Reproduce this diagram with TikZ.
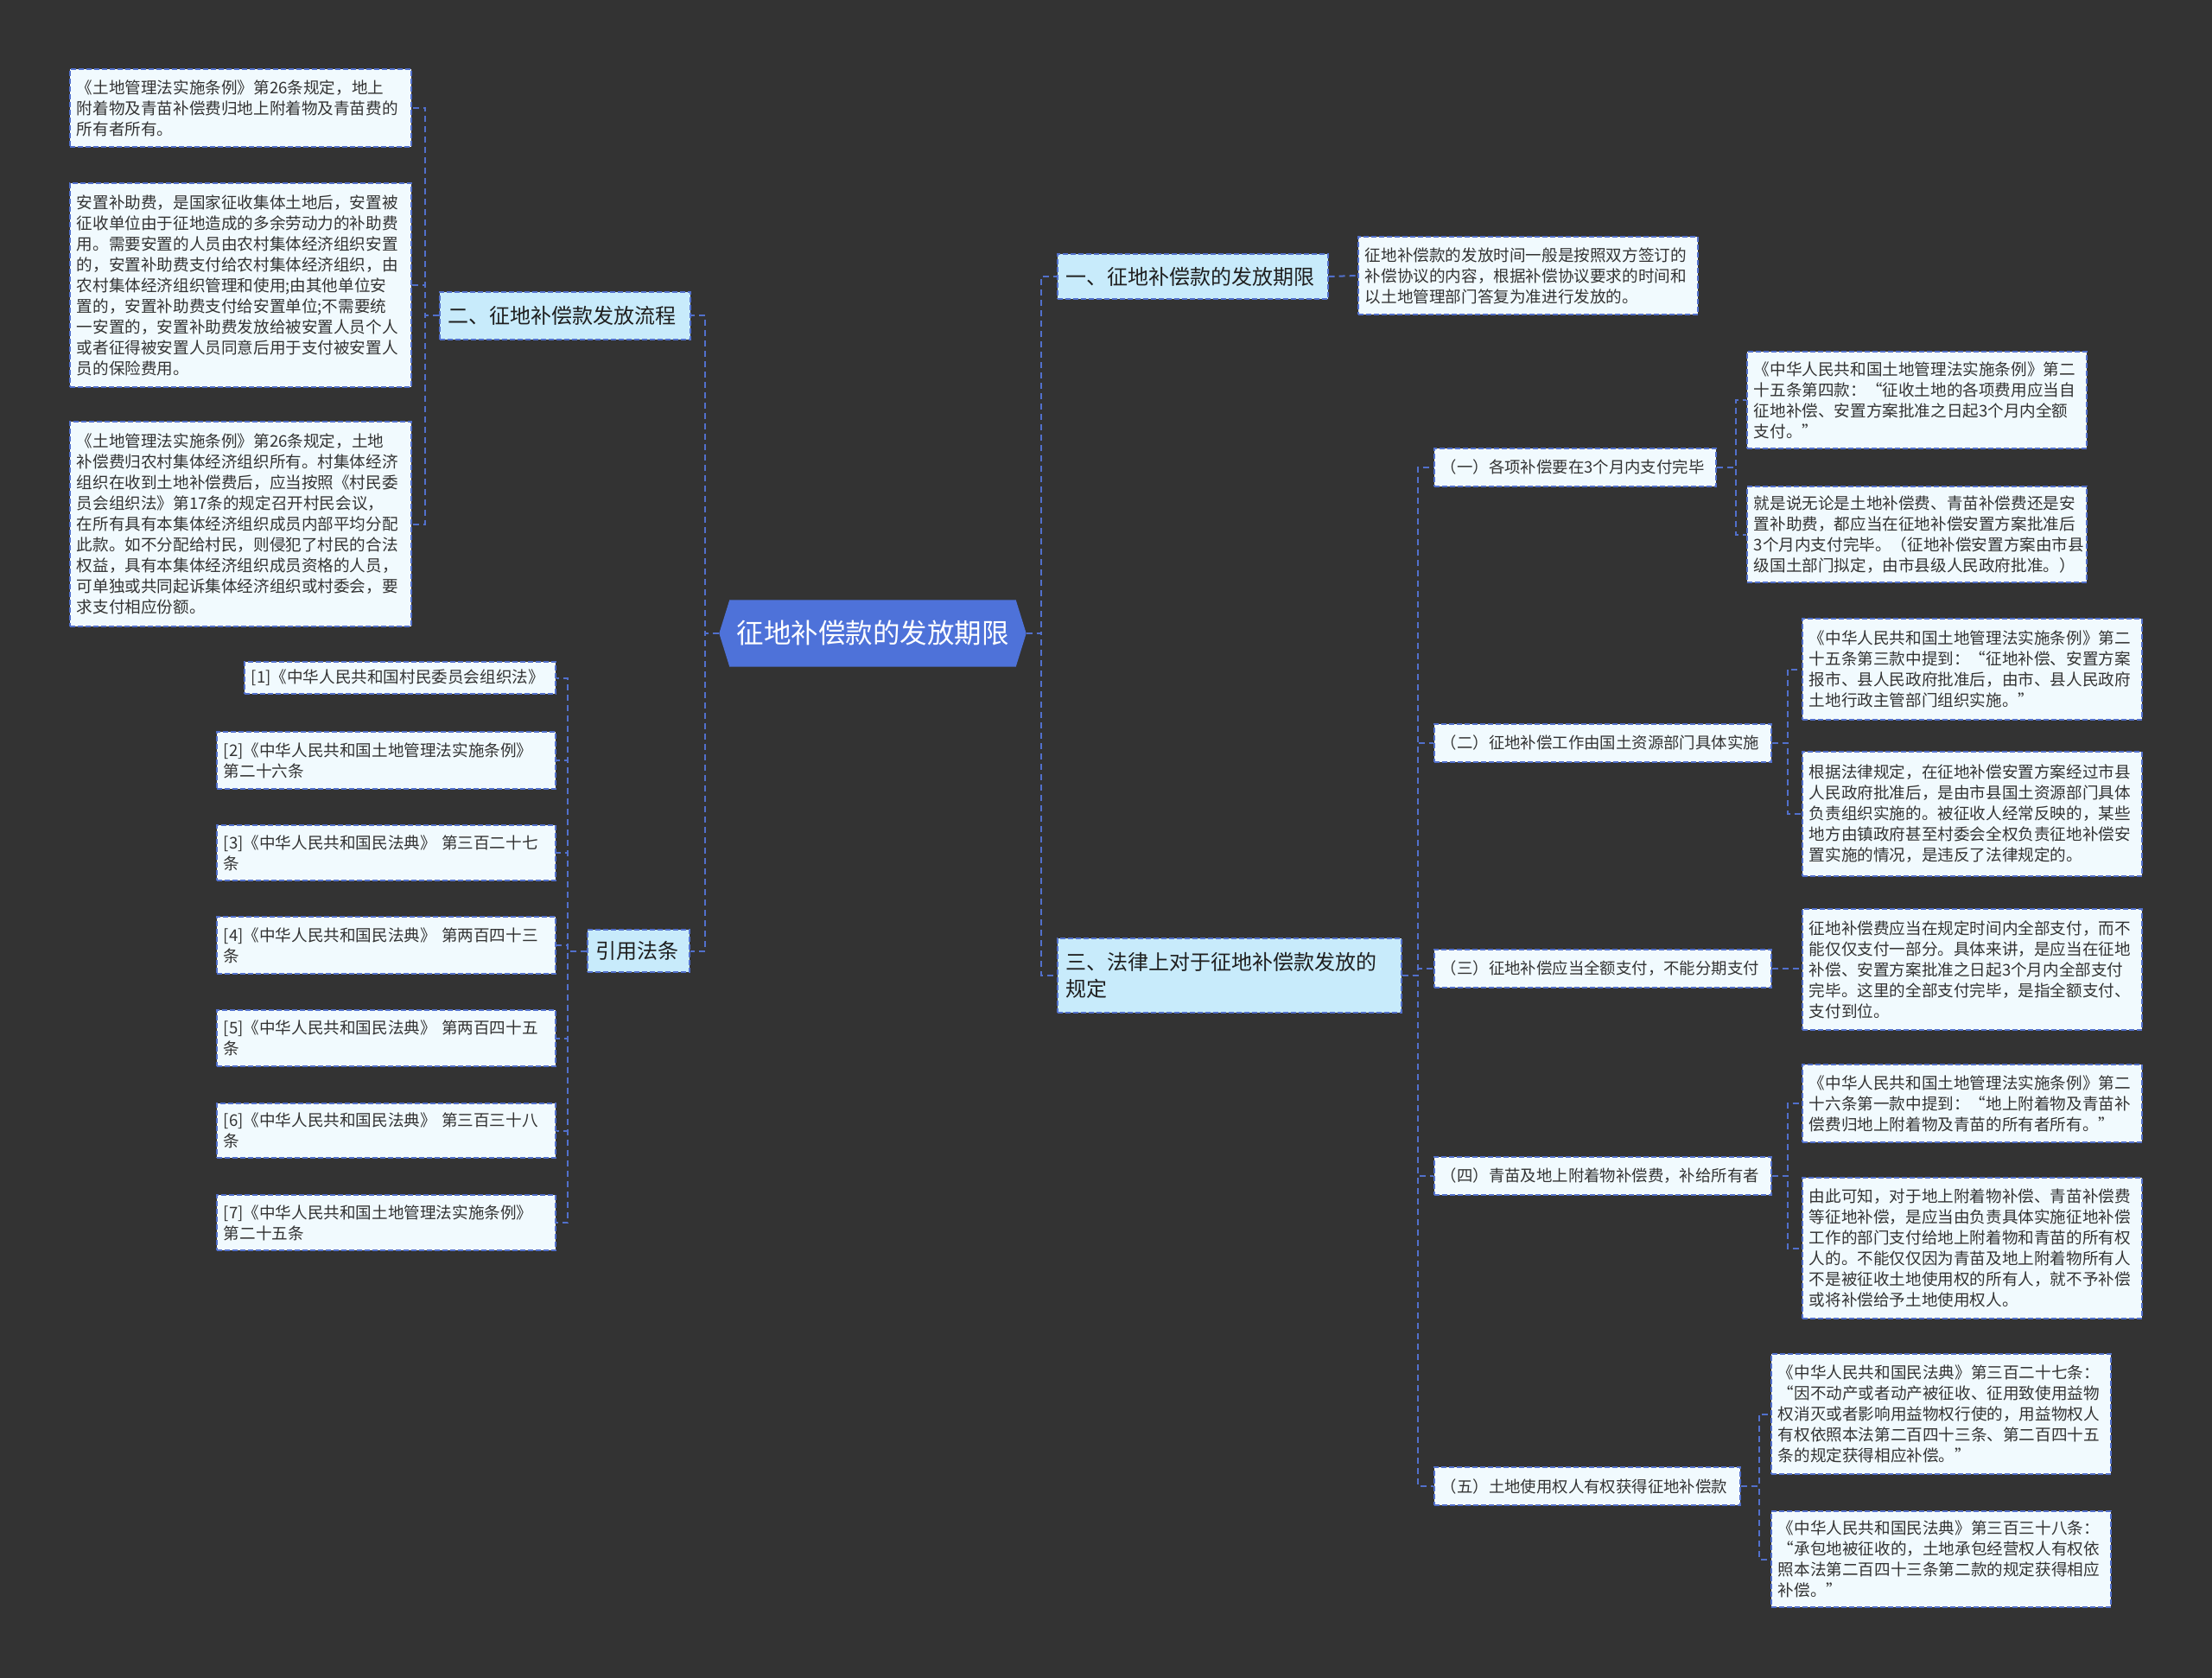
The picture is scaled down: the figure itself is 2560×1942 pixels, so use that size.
\documentclass[tikz,border=0pt]{standalone}
\usepackage{fontspec}
\setmainfont{Noto Sans CJK SC}
\definecolor{bgc}{HTML}{333333}
\definecolor{edgec}{HTML}{5270CC}
\definecolor{leaffill}{HTML}{F1FAFE}
\definecolor{lonefill}{HTML}{C8EBFB}
\definecolor{rootfill}{HTML}{4E72D9}
\definecolor{txt}{HTML}{333333}
\pgfdeclarelayer{back}\pgfdeclarelayer{mid}\pgfsetlayers{back,mid,main}
\tikzset{
  conn/.style={draw=edgec, line width=2pt, dash pattern=on 7pt off 5pt},
  leaf/.style={draw=edgec, fill=leaffill, line width=1.6pt, dash pattern=on 6pt off 3pt,
    align=left, text=txt, font=\fontsize{18.6}{24}\selectfont, inner xsep=8pt, inner ysep=0pt, anchor=west},
  sub/.style={leaf, font=\fontsize{18.4}{24}\selectfont},
  lone/.style={leaf, fill=lonefill, text=black!88, font=\fontsize{24}{31}\selectfont, inner xsep=10pt},
  rootnode/.style={text=white, font=\fontsize{31.5}{36}\selectfont, inner sep=0pt, minimum width=355pt, minimum height=77pt},
}
\begin{document}
\begin{tikzpicture}[x=1pt,y=-1pt]
\begin{pgfonlayer}{back}
\fill[bgc] (0,0) rectangle (2560,1942);
\end{pgfonlayer}
\useasboundingbox (0,0) rectangle (2560,1942);

% root
\node[rootnode] (root) at (1010,733) {征地补偿款的发放期限};
\begin{pgfonlayer}{mid}
\fill[rootfill] (root.west) -- ([xshift=12pt]root.north west) -- ([xshift=-12pt]root.north east) -- (root.east) -- ([xshift=-12pt]root.south east) -- ([xshift=12pt]root.south west) -- cycle;
\end{pgfonlayer}

% left side
\node[lone, text width=270pt, minimum height=55pt] (two) at (508,365.5) {二、征地补偿款发放流程};
\node[lone, text width=98pt, minimum height=49pt] (cite) at (679,1100.5) {引用法条};

\node[leaf, text width=379pt, minimum height=90pt] (la) at (80,125) {《土地管理法实施条例》第26条规定，地上\\附着物及青苗补偿费归地上附着物及青苗费的\\所有者所有。};
\node[leaf, text width=379pt, minimum height=236pt] (lb) at (80,330) {安置补助费，是国家征收集体土地后，安置被\\征收单位由于征地造成的多余劳动力的补助费\\用。需要安置的人员由农村集体经济组织安置\\的，安置补助费支付给农村集体经济组织，由\\农村集体经济组织管理和使用;由其他单位安\\置的，安置补助费支付给安置单位;不需要统\\一安置的，安置补助费发放给被安置人员个人\\或者征得被安置人员同意后用于支付被安置人\\员的保险费用。};
\node[leaf, text width=379pt, minimum height=237pt] (lc) at (80,606.5) {《土地管理法实施条例》第26条规定，土地\\补偿费归农村集体经济组织所有。村集体经济\\组织在收到土地补偿费后，应当按照《村民委\\员会组织法》第17条的规定召开村民会议，\\在所有具有本集体经济组织成员内部平均分配\\此款。如不分配给村民，则侵犯了村民的合法\\权益，具有本集体经济组织成员资格的人员，\\可单独或共同起诉集体经济组织或村委会，要\\求支付相应份额。};

\node[leaf, text width=344pt, minimum height=37pt] (r1) at (282,784.5) {[1]《中华人民共和国村民委员会组织法》};
\node[leaf, text width=376pt, minimum height=66pt] (r2) at (250,880) {[2]《中华人民共和国土地管理法实施条例》\\第二十六条};
\node[leaf, text width=376pt, minimum height=64pt] (r3) at (250,987) {[3]《中华人民共和国民法典》~第三百二十七\\条};
\node[leaf, text width=376pt, minimum height=66pt] (r4) at (250,1094) {[4]《中华人民共和国民法典》~第两百四十三\\条};
\node[leaf, text width=376pt, minimum height=65pt] (r5) at (250,1201.5) {[5]《中华人民共和国民法典》~第两百四十五\\条};
\node[leaf, text width=376pt, minimum height=63pt] (r6) at (250,1308.5) {[6]《中华人民共和国民法典》~第三百三十八\\条};
\node[leaf, text width=376pt, minimum height=64pt] (r7) at (250,1415) {[7]《中华人民共和国土地管理法实施条例》\\第二十五条};

% right side
\node[lone, text width=293pt, minimum height=52pt] (one) at (1223,320) {一、征地补偿款的发放期限};
\node[leaf, text width=377pt, minimum height=90pt] (oneleaf) at (1571,319) {征地补偿款的发放时间一般是按照双方签订的\\补偿协议的内容，根据补偿协议要求的时间和\\以土地管理部门答复为准进行发放的。};
\node[lone, text width=378pt, minimum height=86pt] (three) at (1223,1129) {三、法律上对于征地补偿款发放的\\规定};

\node[sub, text width=310pt, minimum height=44pt] (s1) at (1659,541) {（一）各项补偿要在3个月内支付完毕};
\node[sub, text width=374pt, minimum height=44pt] (s2) at (1659,860) {（二）征地补偿工作由国土资源部门具体实施};
\node[sub, text width=374pt, minimum height=44pt] (s3) at (1659,1121) {（三）征地补偿应当全额支付，不能分期支付};
\node[sub, text width=374pt, minimum height=44pt] (s4) at (1659,1361) {（四）青苗及地上附着物补偿费，补给所有者};
\node[sub, text width=338pt, minimum height=44pt] (s5) at (1659,1720) {（五）土地使用权人有权获得征地补偿款};

\node[leaf, text width=377pt, minimum height=112pt] (l1a) at (2021,463) {《中华人民共和国土地管理法实施条例》第二\\十五条第四款：“征收土地的各项费用应当自\\征地补偿、安置方案批准之日起3个月内全额\\支付。”};
\node[leaf, text width=377pt, minimum height=111pt] (l1b) at (2021,618.5) {就是说无论是土地补偿费、青苗补偿费还是安\\置补助费，都应当在征地补偿安置方案批准后\\3个月内支付完毕。（征地补偿安置方案由市县\\级国土部门拟定，由市县级人民政府批准。）};
\node[leaf, text width=377pt, minimum height=117pt] (l2a) at (2085,774.5) {《中华人民共和国土地管理法实施条例》第二\\十五条第三款中提到：“征地补偿、安置方案\\报市、县人民政府批准后，由市、县人民政府\\土地行政主管部门组织实施。”};
\node[leaf, text width=377pt, minimum height=144pt] (l2b) at (2085,942) {根据法律规定，在征地补偿安置方案经过市县\\人民政府批准后，是由市县国土资源部门具体\\负责组织实施的。被征收人经常反映的，某些\\地方由镇政府甚至村委会全权负责征地补偿安\\置实施的情况，是违反了法律规定的。};
\node[leaf, text width=377pt, minimum height=140pt] (l3) at (2085,1122) {征地补偿费应当在规定时间内全部支付，而不\\能仅仅支付一部分。具体来讲，是应当在征地\\补偿、安置方案批准之日起3个月内全部支付\\完毕。这里的全部支付完毕，是指全额支付、\\支付到位。};
\node[leaf, text width=377pt, minimum height=90pt] (l4a) at (2085,1277) {《中华人民共和国土地管理法实施条例》第二\\十六条第一款中提到：“地上附着物及青苗补\\偿费归地上附着物及青苗的所有者所有。”};
\node[leaf, text width=377pt, minimum height=163pt] (l4b) at (2085,1444.5) {由此可知，对于地上附着物补偿、青苗补偿费\\等征地补偿，是应当由负责具体实施征地补偿\\工作的部门支付给地上附着物和青苗的所有权\\人的。不能仅仅因为青苗及地上附着物所有人\\不是被征收土地使用权的所有人，就不予补偿\\或将补偿给予土地使用权人。};
\node[leaf, text width=377pt, minimum height=139pt] (l5a) at (2049,1636.5) {《中华人民共和国民法典》第三百二十七条：\\“因不动产或者动产被征收、征用致使用益物\\权消灭或者影响用益物权行使的，用益物权人\\有权依照本法第二百四十三条、第二百四十五\\条的规定获得相应补偿。”};
\node[leaf, text width=377pt, minimum height=111pt] (l5b) at (2049,1804.5) {《中华人民共和国民法典》第三百三十八条：\\“承包地被征收的，土地承包经营权人有权依\\照本法第二百四十三条第二款的规定获得相应\\补偿。”};

% connectors
\draw[conn] (root.west) -- ++(-16,0) |- (two.east);
\draw[conn] (root.west) -- ++(-16,0) |- (cite.east);
\foreach \n in {la,lb,lc} \draw[conn] (two.west) -- ++(-16,0) |- (\n.east);
\foreach \n in {r1,r2,r3,r4,r5,r6,r7} \draw[conn] (cite.west) -- ++(-22,0) |- (\n.east);

\draw[conn] (root.east) -- ++(17,0) |- (one.west);
\draw[conn] (root.east) -- ++(17,0) |- (three.west);
\draw[conn] (one.east) -- (oneleaf.west);
\foreach \n in {s1,s2,s3,s4,s5} \draw[conn] (three.east) -- ++(18,0) |- (\n.west);
\foreach \n in {l1a,l1b} \draw[conn] (s1.east) -- ++(22,0) |- (\n.west);
\foreach \n in {l2a,l2b} \draw[conn] (s2.east) -- ++(18,0) |- (\n.west);
\draw[conn] (s3.east) -- (s3.east -| l3.west);
\foreach \n in {l4a,l4b} \draw[conn] (s4.east) -- ++(18,0) |- (\n.west);
\foreach \n in {l5a,l5b} \draw[conn] (s5.east) -- ++(21,0) |- (\n.west);
\end{tikzpicture}
\end{document}
